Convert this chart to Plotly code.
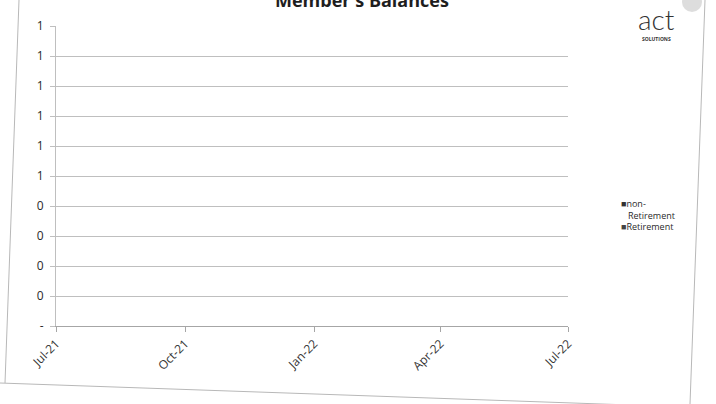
import plotly.graph_objects as go

# ---- data ----
months = ["2021-07-01", "2021-08-01", "2021-09-01", "2021-10-01", "2021-11-01",
          "2021-12-01", "2022-01-01", "2022-02-01", "2022-03-01", "2022-04-01",
          "2022-05-01", "2022-06-01", "2022-07-01"]
non_retirement = [0, 0, 0, 0, 0, 0, 0, 0, 0, 0, 0, 0, 0]
retirement = [0, 0, 0, 0, 0, 0, 0, 0, 0, 0, 0, 0, 0]
series_names = ["non-Retirement", "Retirement"]
x_tick_vals = ["2021-07-01", "2021-10-01", "2022-01-01", "2022-04-01", "2022-07-01"]
x_tick_text = ["Jul-21", "Oct-21", "Jan-22", "Apr-22", "Jul-22"]
y_tick_vals = [0, 0.1, 0.2, 0.3, 0.4, 0.5, 0.6, 0.7, 0.8, 0.9, 1.0]
y_tick_text = ["-", "0", "0", "0", "0", "1", "1", "1", "1", "1", "1"]

W, H = 716, 404
L, R, T, B = 56, 148, 26, 78
PW, PH = W - L - R, H - T - B


def xp(px):
    return (px - L) / PW


def yp(py):
    return (H - B - py) / PH


colors = ["#333333", "#444444"]

fig = go.Figure()
fig.add_trace(go.Bar(x=months, y=non_retirement, name=series_names[0],
                     marker_color=colors[0], showlegend=False))
fig.add_trace(go.Bar(x=months, y=retirement, name=series_names[1],
                     marker_color=colors[1], showlegend=False))

font_family = "Open Sans, Liberation Sans, sans-serif"

fig.update_layout(
    width=W, height=H,
    margin=dict(l=L, r=R, t=T, b=B),
    paper_bgcolor="white", plot_bgcolor="white",
    barmode="stack",
    font=dict(family=font_family, color="#404040", size=11),
    xaxis=dict(type="date", range=["2021-07-01", "2022-07-01"],
               tickvals=x_tick_vals, ticktext=x_tick_text, tickangle=-45,
               showgrid=False, showline=True, linecolor="#a6a6a6", linewidth=1,
               ticks="outside", ticklen=5, tickcolor="#a6a6a6",
               tickfont=dict(size=12, color="#333333")),
    yaxis=dict(range=[0, 1], tickvals=y_tick_vals, ticktext=y_tick_text,
               showgrid=True, gridcolor="#bfbfbf", gridwidth=1,
               showline=True, linecolor="#bfbfbf", linewidth=1,
               ticks="outside", ticklen=5, tickcolor="#bfbfbf",
               zeroline=False, ticklabelstandoff=4,
               tickfont=dict(size=12, color="#2a2a2a")),
)

# legend drawn as text (square marker + label), like the reference
legend_font = dict(size=9, color="#2a2a2a", family=font_family)
sq = "<span style='color:%s'>■</span>"
legend_text = ((sq % colors[0]) + "non-<br>&nbsp;&nbsp;&nbsp;Retirement<br>"
               + (sq % colors[1]) + series_names[1])
fig.add_annotation(text=legend_text, align="left",
                   x=xp(619), y=yp(215), xref="paper", yref="paper",
                   xanchor="left", yanchor="middle", showarrow=False, font=legend_font)

# title (cut off at top in the reference)
fig.add_annotation(text="<b>Member's Balances</b>", x=xp(362), y=yp(0),
                   xref="paper", yref="paper", xanchor="center", yanchor="middle",
                   showarrow=False, font=dict(size=18, color="#1e1e1e",
                                              family="Open Sans, sans-serif"))

# logo
fig.add_shape(type="circle", xref="paper", yref="paper",
              x0=xp(682), x1=xp(702), y0=yp(12), y1=yp(-8),
              fillcolor="#d4d4d4", line=dict(width=0), opacity=0.8)
fig.add_annotation(text="act", x=xp(656), y=yp(19), xref="paper", yref="paper",
                   xanchor="center", yanchor="middle", showarrow=False,
                   font=dict(size=28, color="#333333", family="Lato, sans-serif",
                             weight=300))
fig.add_annotation(text="<b>SOLUTIONS</b>", x=xp(656), y=yp(39), xref="paper",
                   yref="paper", xanchor="center", yanchor="middle",
                   showarrow=False, font=dict(size=5, color="#333333"))

# scanned page frame
frame = dict(color="#b8b8b8", width=1)
fig.add_shape(type="line", xref="paper", yref="paper",
              x0=xp(705), y0=yp(0), x1=xp(690), y1=yp(404), line=frame)
fig.add_shape(type="line", xref="paper", yref="paper",
              x0=xp(0), y0=yp(383), x1=xp(716), y1=yp(408), line=frame)
fig.add_shape(type="line", xref="paper", yref="paper",
              x0=xp(19), y0=yp(0), x1=xp(5), y1=yp(383), line=frame)

fig.write_html("out.html")
